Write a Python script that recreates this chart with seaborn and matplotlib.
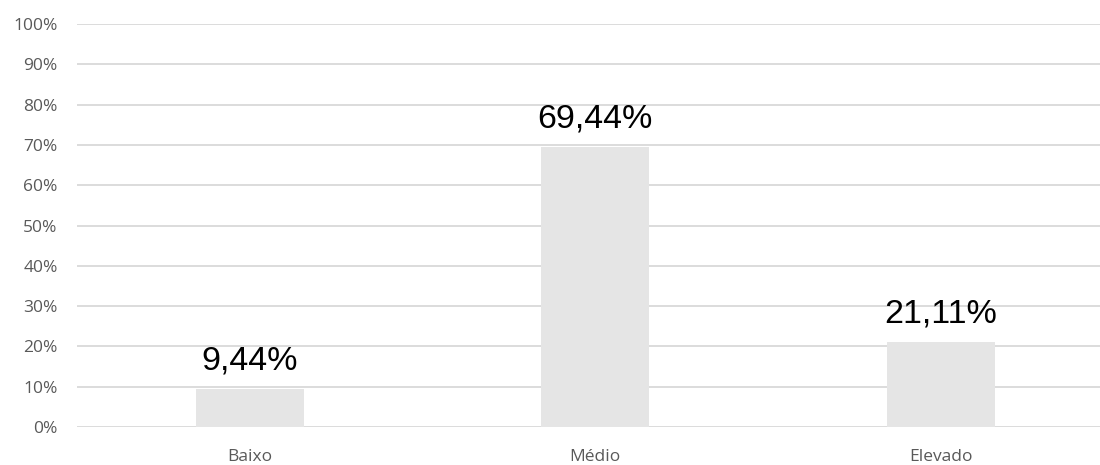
import matplotlib
matplotlib.use("Agg")
import matplotlib.pyplot as plt
import seaborn as sns
import pandas as pd
from matplotlib.ticker import FuncFormatter, MultipleLocator

categories = ["Baixo", "Médio", "Elevado"]
values = [9.44, 69.44, 21.11]
labels = ["9,44%", "69,44%", "21,11%"]

sns.set_theme(style="white")
plt.rcParams['font.family'] = ['Open Sans', 'DejaVu Sans']

df = pd.DataFrame({"cat": categories, "val": values})

fig = plt.figure(figsize=(11, 4.65), dpi=100)
ax = fig.add_axes([0.07, 0.0817, 0.9423, 0.8666])

sns.barplot(data=df, x="cat", y="val", color="#e5e5e5", width=0.3126,
            saturation=1, ax=ax, zorder=3, linewidth=0)

ax.set_ylim(0, 100)
ax.yaxis.set_major_locator(MultipleLocator(10))
ax.yaxis.set_major_formatter(FuncFormatter(lambda v, p: f"{int(round(v))}%"))
ax.grid(axis="y", color="#d9d9d9", linewidth=1.3, zorder=0)
ax.set_axisbelow(True)
for s in ax.spines.values():
    s.set_visible(False)
ax.tick_params(axis="both", length=0, colors="#595959", labelsize=12.5)
ax.tick_params(axis="y", pad=14)
ax.tick_params(axis="x", pad=16)
ax.set_xlabel("")
ax.set_ylabel("")

for i, (v, lab) in enumerate(zip(values, labels)):
    ax.annotate(lab, (i, v), xytext=(0, 9), textcoords="offset points",
                ha="center", va="bottom", fontsize=24.5, color="#000000",
                family=["Liberation Sans", "DejaVu Sans"])

fig.savefig("out.png", dpi=100)
